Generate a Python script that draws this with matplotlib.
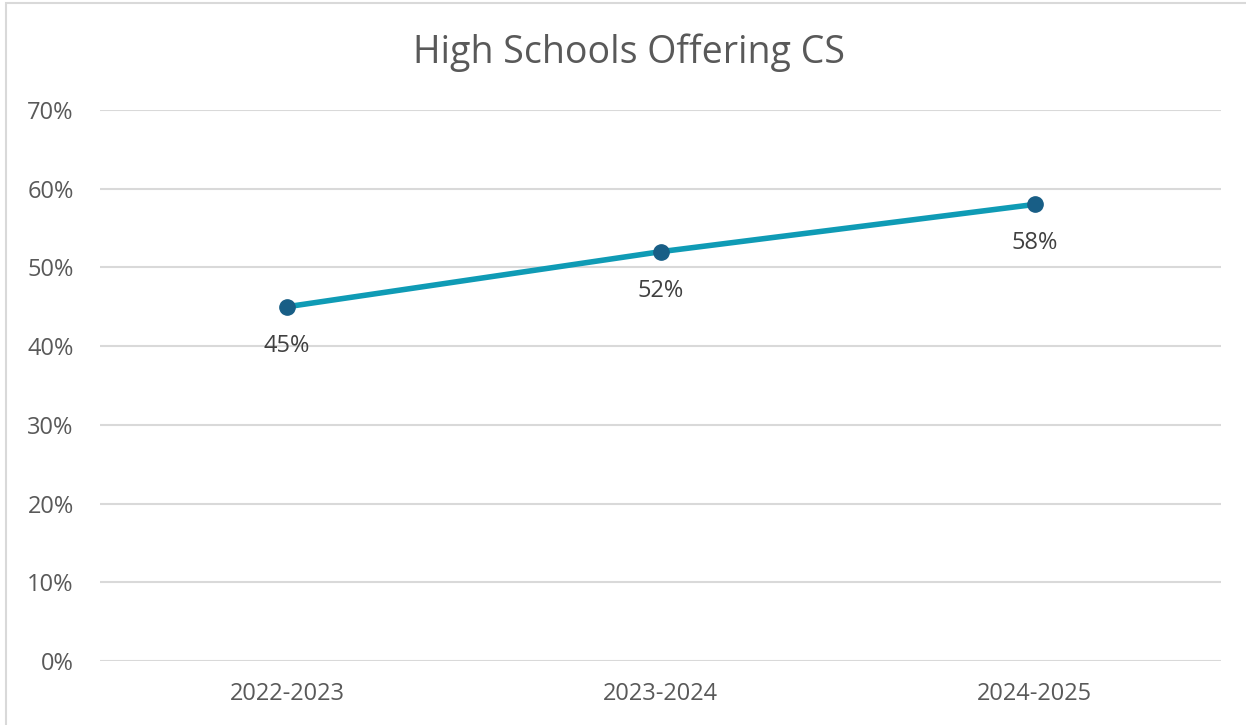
import matplotlib.pyplot as plt
from matplotlib.patches import Rectangle
from matplotlib.ticker import FuncFormatter

# share of high schools offering computer science
years = ["2022-2023", "2023-2024", "2024-2025"]
share = [45, 52, 58]

text_grey = "#595959"
plt.rcParams["font.family"] = ["Open Sans", "DejaVu Sans"]

fig = plt.figure(figsize=(12.46, 7.25), dpi=100)
ax = fig.add_axes([0.0803, 0.0883, 0.9, 0.76])

x = list(range(len(years)))
ax.plot(x, share, color="#0F9BB5", lw=4, zorder=3, solid_capstyle="round")
ax.plot(x, share, "o", color="#185E86", ms=11, zorder=4)

for xi, v in zip(x, share):
    ax.annotate(f"{v}%", (xi, v), xytext=(0, -28), textcoords="offset points",
                ha="center", va="center", fontsize=17, color="#404040")

ax.set_xlim(-0.5, 2.5)
ax.set_ylim(0, 70)
ax.set_xticks(x)
ax.set_xticklabels(years)
ax.set_yticks(range(0, 71, 10))
ax.yaxis.set_major_formatter(FuncFormatter(lambda v, _: f"{v:.0f}%"))
ax.tick_params(axis="both", length=0, labelsize=17, colors=text_grey)
ax.tick_params(axis="x", pad=15)
ax.tick_params(axis="y", pad=19)
ax.grid(axis="y", color="#D9D9D9", lw=1.5)
ax.set_axisbelow(True)
for s in ax.spines.values():
    s.set_visible(False)

fig.text(0.505, 0.928, "High Schools Offering CS", ha="center", va="center",
         fontsize=27, color=text_grey)

# chart frame, only the left and top edges fall inside the image
fig.patches.append(Rectangle((6 / 1246, -0.1), 1.2, 1.1 - 3 / 725,
                             transform=fig.transFigure, fill=False,
                             edgecolor="#D9D9D9", lw=1.5))

fig.savefig("out.png", dpi=100)
